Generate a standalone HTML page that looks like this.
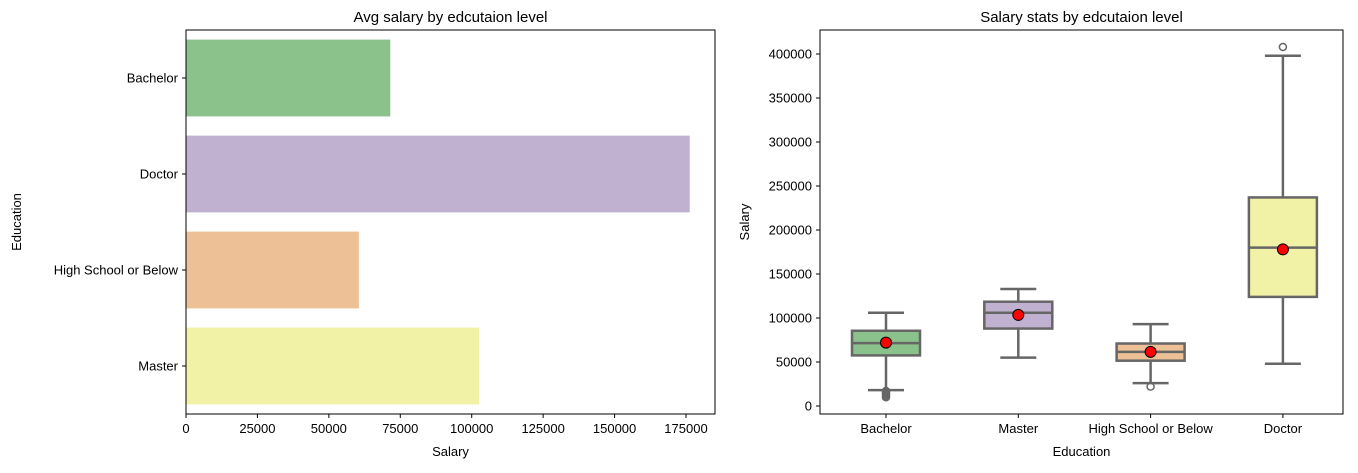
<!DOCTYPE html>
<html><head><meta charset="utf-8"><style>
body{margin:0;background:#fff;font-family:"Liberation Sans","DejaVu Sans",sans-serif;}
svg text{font-family:"Liberation Sans","DejaVu Sans",sans-serif;fill:#000}
</style></head><body>
<svg id="chart" width="1358" height="468" xmlns="http://www.w3.org/2000/svg"></svg>
<script>
const barCats=["Bachelor","Doctor","High School or Below","Master"];
const barVals=[71500,176300,60500,102600];
const barColors=["#8bc18a","#c0b1d0","#edc096","#f2f2a6"];
const xTicksL=[0,25000,50000,75000,100000,125000,150000,175000];

const boxCats=["Bachelor","Master","High School or Below","Doctor"];
const boxColors=["#8bc18a","#c0b1d0","#edc096","#f2f2a6"];
const wLow=[18000,55000,26000,48000];
const q1=[57500,88000,51500,124000];
const med=[71500,106000,61500,180000];
const q3=[85500,118500,71000,237000];
const wHigh=[106000,133000,93000,398000];
const means=[72000,103500,61500,178000];
const fliers=[[10000,11500,13000,14500,16000,17000],[],[22000],[408000]];
const yTicksR=[0,50000,100000,150000,200000,250000,300000,350000,400000];

const svg=document.getElementById('chart');
const NS="http://www.w3.org/2000/svg";
function mk(tag,attrs,parent,name){const e=document.createElementNS(NS,tag);for(const k in attrs)e.setAttribute(k,attrs[k]);


(parent||svg).appendChild(e);return e;}
function txt(x,y,s,anchor,size,name,rot){const t=mk('text',{x:x,y:y,'text-anchor':anchor,'font-size':size||13},svg,name);if(rot)t.setAttribute('transform',`rotate(-90 ${x} ${y})`);t.textContent=s;return t;}

// Left chart
const L={x0:186,x1:715,y0:30,y1:414};
const xL=v=>L.x0+v*(500/175000);
const bandL=(L.y1-L.y0)/barCats.length;
barCats.forEach((c,i)=>{
  const yc=L.y0+bandL*(i+0.5);
  mk('rect',{x:L.x0,y:yc-bandL*0.4,width:xL(barVals[i])-L.x0,height:bandL*0.8,fill:barColors[i]},svg,'bar-'+c.toLowerCase().replace(/ /g,'-'));
  mk('line',{x1:L.x0-4,x2:L.x0,y1:yc,y2:yc,stroke:'#000'},svg,'y-tick');
  txt(L.x0-8,yc+4.5,c,'end',13,'y-tick-label');
});
xTicksL.forEach(v=>{const x=xL(v);mk('line',{x1:x,x2:x,y1:L.y1,y2:L.y1+4,stroke:'#000'},svg,'x-tick');txt(x,L.y1+19,String(v),'middle',13,'x-tick-label');});
mk('rect',{x:L.x0,y:L.y0,width:L.x1-L.x0,height:L.y1-L.y0,fill:'none',stroke:'#000','stroke-width':1},svg,'left-axes-frame');
txt((L.x0+L.x1)/2,22,'Avg salary by edcutaion level','middle',15,'left-chart-title');
txt((L.x0+L.x1)/2,456,'Salary','middle',13,'left-x-axis-title');
txt(21,(L.y0+L.y1)/2,'Education','middle',13,'left-y-axis-title',true);

// Right chart
const R={x0:820,x1:1343,y0:30,y1:414};
const yR=v=>406-v*(352/400000);
const xR=i=>886+i*132.3;
const g='#666';
boxCats.forEach((c,i)=>{
  const xc=xR(i), hw=34, cw=18;
  const n=c.toLowerCase().replace(/ /g,'-');
  mk('line',{x1:xc,x2:xc,y1:yR(wLow[i]),y2:yR(q1[i]),stroke:g,'stroke-width':2.5},svg,'whisker-low-'+n);
  mk('line',{x1:xc,x2:xc,y1:yR(q3[i]),y2:yR(wHigh[i]),stroke:g,'stroke-width':2.5},svg,'whisker-high-'+n);
  mk('line',{x1:xc-cw,x2:xc+cw,y1:yR(wLow[i]),y2:yR(wLow[i]),stroke:g,'stroke-width':2.5},svg,'cap-low-'+n);
  mk('line',{x1:xc-cw,x2:xc+cw,y1:yR(wHigh[i]),y2:yR(wHigh[i]),stroke:g,'stroke-width':2.5},svg,'cap-high-'+n);
  mk('rect',{x:xc-hw,y:yR(q3[i]),width:2*hw,height:yR(q1[i])-yR(q3[i]),fill:boxColors[i],stroke:g,'stroke-width':2.5},svg,'box-'+n);
  mk('line',{x1:xc-hw,x2:xc+hw,y1:yR(med[i]),y2:yR(med[i]),stroke:g,'stroke-width':2.5},svg,'median-'+n);
  fliers[i].forEach(f=>mk('circle',{cx:xc,cy:yR(f),r:3.5,fill:'none',stroke:g,'stroke-width':1.5},svg,'outlier-'+n));
  mk('circle',{cx:xc,cy:yR(means[i]),r:5.5,fill:'#ff0000',stroke:'#000','stroke-width':1},svg,'mean-marker-'+n);
  mk('line',{x1:xc,x2:xc,y1:R.y1,y2:R.y1+4,stroke:'#000'},svg,'x-tick');
  txt(xc,R.y1+19,c,'middle',13,'x-tick-label');
});
yTicksR.forEach(v=>{const y=yR(v);mk('line',{x1:R.x0-4,x2:R.x0,y1:y,y2:y,stroke:'#000'},svg,'y-tick');txt(R.x0-8,y+4.5,String(v),'end',13,'y-tick-label');});
mk('rect',{x:R.x0,y:R.y0,width:R.x1-R.x0,height:R.y1-R.y0,fill:'none',stroke:'#000','stroke-width':1},svg,'right-axes-frame');
txt((R.x0+R.x1)/2,22,'Salary stats by edcutaion level','middle',15,'right-chart-title');
txt((R.x0+R.x1)/2,456,'Education','middle',13,'right-x-axis-title');
txt(749,222,'Salary','middle',13,'right-y-axis-title',true);
</script>
</body></html>
